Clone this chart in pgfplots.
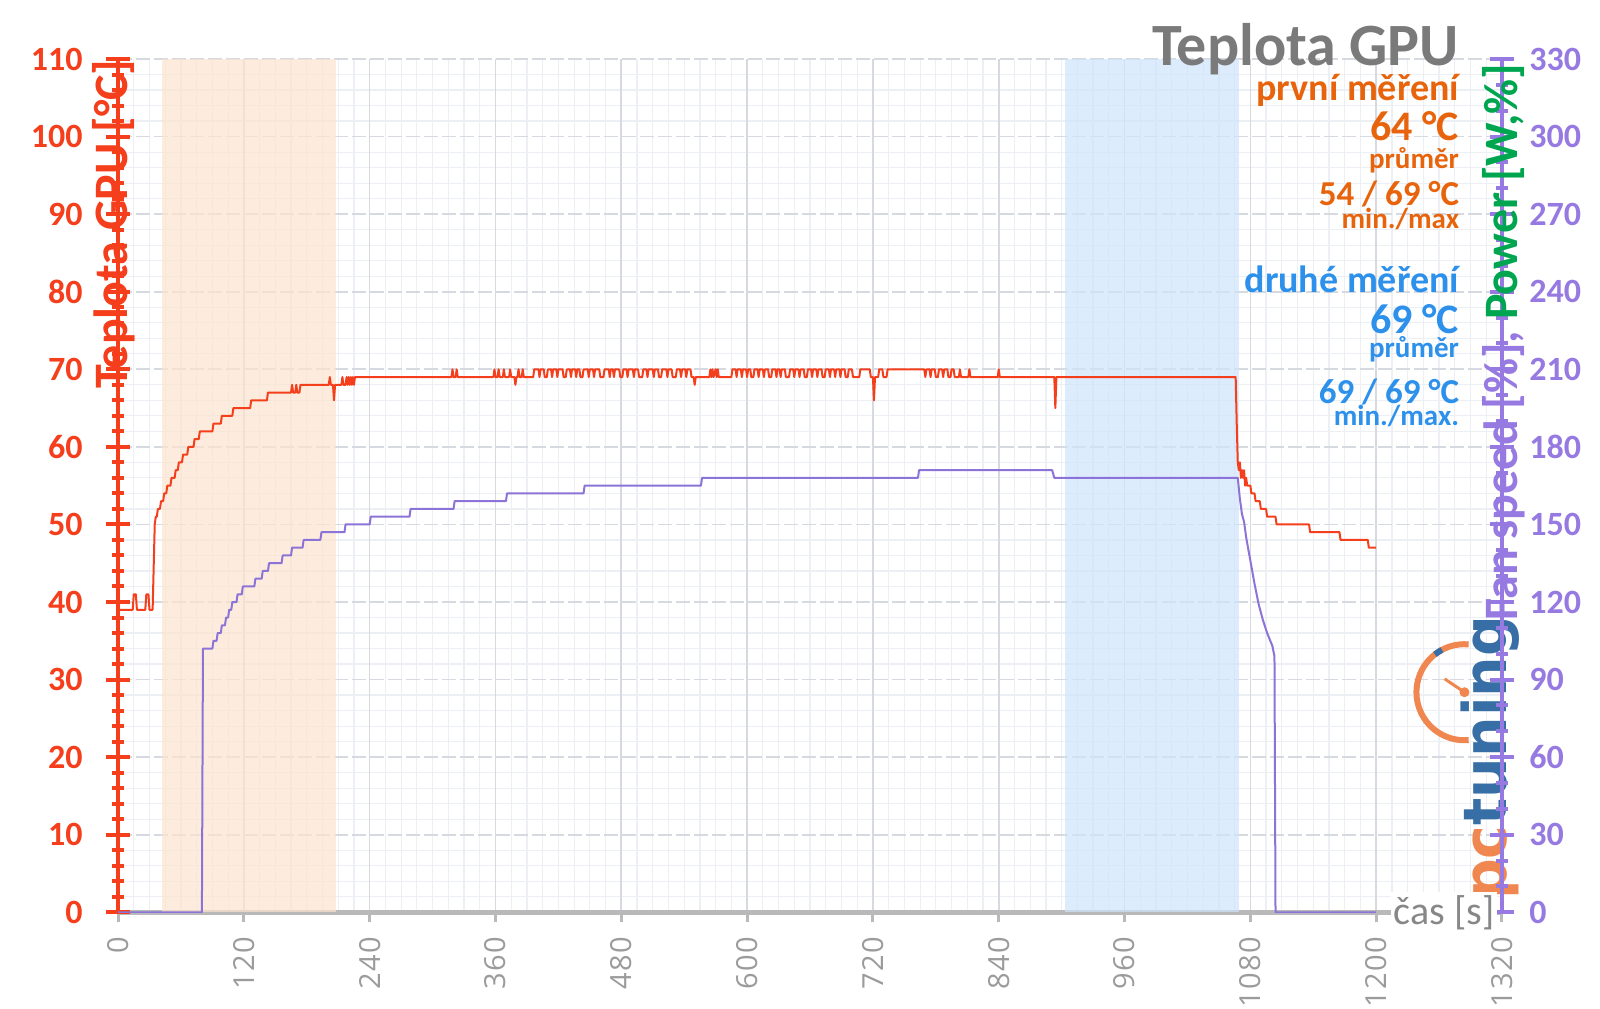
\documentclass[border=0pt]{standalone}
\usepackage{fontspec}
\setmainfont{Carlito}
\newfontfamily\tickfont[LetterSpace=5]{Open Sans}
\newfontfamily\logofont{DejaVu Sans}
\usepackage{graphicx}
\usepackage{pgfplots}
\pgfplotsset{compat=1.18}

\definecolor{tred}{RGB}{245,62,28}
\definecolor{tpurple}{RGB}{150,122,226}
\definecolor{fanline}{RGB}{140,115,215}
\definecolor{tgreen}{RGB}{0,165,80}
\definecolor{tgray}{RGB}{122,122,122}
\definecolor{xgray}{RGB}{185,185,185}
\definecolor{xtickgray}{RGB}{155,155,155}
\definecolor{first}{RGB}{232,100,12}
\definecolor{second}{RGB}{45,145,235}
\definecolor{gridmaj}{RGB}{214,218,224}
\definecolor{gridmin}{RGB}{236,239,244}
\definecolor{bandorange}{RGB}{252,228,206}
\definecolor{bandblue}{RGB}{206,228,251}
\definecolor{logoorange}{RGB}{240,135,80}
\definecolor{logoblue}{RGB}{55,110,165}

\pgfplotsset{
  base/.style={scale only axis, width=691.75pt, height=426.5pt,
    xmin=0, xmax=1320, xtick={0,120,...,1320},
    /pgf/number format/1000 sep={},
    /pgf/number format/assume math mode=true},
  bare/.style={base, ymin=0, ymax=110, ytick={0,10,...,110},
    axis line style={draw=none}, major tick length=0pt, minor tick length=0pt,
    xticklabels={}, yticklabels={}},
}

\begin{document}
\begin{tikzpicture}
\useasboundingbox (-59pt,-48pt) rectangle (740.75pt,456pt);

% minor grid
\begin{axis}[bare, minor x tick num=7, minor y tick num=4,
    xminorgrids, yminorgrids, minor grid style={gridmin, line width=0.6pt}]
\addplot[draw=none] coordinates {(0,0) (1320,110)};
\end{axis}
% major vertical grid
\begin{axis}[bare, xmajorgrids, major grid style={gridmaj, line width=0.8pt}]
\addplot[draw=none] coordinates {(0,0) (1320,110)};
\end{axis}
% major horizontal grid, dashed
\begin{axis}[bare, ymajorgrids, major grid style={gridmaj, line width=0.8pt, dash pattern=on 7pt off 2pt}]
\addplot[draw=none] coordinates {(0,0) (1320,110)};
\end{axis}

% logo
\draw[logoorange, line width=3pt] (673pt,110pt) ++(85:24pt) arc[start angle=85, end angle=275, radius=24pt];
\draw[logoblue, line width=3pt] (673pt,110pt) ++(118:24pt) arc[start angle=118, end angle=128, radius=24pt];
\draw[logoorange, line width=1.5pt] (673pt,110pt) -- ++(146:12pt);
\fill[logoorange] (673pt,110pt) circle (2.5pt);
\node[rotate=90, anchor=base west, inner sep=0pt] at (694pt,6pt)
  {\logofont\bfseries\fontsize{30}{30}\selectfont\scalebox{0.95}[1]{\textcolor{logoorange}{pc}\textcolor{logoblue}{tuning}}};

% x axis
\begin{axis}[base, ymin=0, ymax=110, axis x line=bottom, axis y line=none,
    axis line style={-, draw=xgray, line width=2.5pt},
    tick align=outside, major tick length=5pt,
    tick style={draw=xgray, line width=1.5pt},
    xticklabel style={rotate=90, anchor=east, inner xsep=7pt,
      font=\tickfont\fontsize{14.5}{14.5}\selectfont, text=xtickgray}]
\addplot[draw=none] coordinates {(0,0) (1320,110)};
\end{axis}

% temperature, left axis
\begin{axis}[base, ymin=0, ymax=110, axis y line=left, axis x line=none,
    axis line style={-, draw=tred, line width=2pt},
    ytick={0,10,...,110}, minor y tick num=4,
    tick align=center, major tick length=12pt, minor tick length=6pt,
    tick style={draw=tred, line width=2pt},
    yticklabel style={inner xsep=0pt, xshift=-11.5pt,
      font=\fontsize{17}{17}\selectfont\bfseries, text=tred}]
\addplot[draw=none, fill=bandorange, fill opacity=0.7]
  coordinates {(42,0) (208,0) (208,110) (42,110)};
\addplot[draw=none, fill=bandblue, fill opacity=0.7]
  coordinates {(903,0) (1069,0) (1069,110) (903,110)};
\addplot[tred, line width=1pt, line join=round] coordinates {
(0,39)(14,39)(15,41)(17,41)(18,39)(26,39)(27,41)(29,41)(30,39)(33,39)(35,50)(36,51)(37,51)
(38,52)(40,52)(41,53)(43,53)(44,54)(46,54)(47,55)(50,55)(51,56)(54,56)(55,57)(57,57)(58,58)
(61,58)(62,59)(66,59)(67,60)(72,60)(73,61)(77,61)(78,62)(90,62)(91,63)(98,63)(99,64)(109,64)
(110,65)(126,65)(127,66)(142,66)(143,67)(165,67)(166,68)(167,67)(169,67)(170,68)(171,67)
(173,67)(174,68)(201,68)(202,69)(203,68)(205,68)(206,66)(207,68)(213,68)(214,69)(215,68)
(217,68)(218,69)(219,68)(220,69)(221,68)(222,69)(223,68)(224,69)(225,68)(226,69)
(318,69)(319,70)(320,69)(322,69)(323,70)(324,69)(358,69)(359,70)(360,69)(362,69)(363,70)
(364,69)(367,69)(368,70)(369,69)(373,69)(374,70)(375,69)(378,69)(379,68)(380,69)(381,69)
(382,70)(383,69)(385,69)(386,70)(387,69)(396,69)(397,70)
(401,70)(402,69)(403,70)(406,70)(407,69)(409,69)(410,70)(413,70)(414,69)(415,70)(418,70)
(419,69)(420,70)(424,70)(425,69)(427,69)(428,70)(431,70)(432,69)(433,70)(436,70)(437,69)
(438,70)(440,70)(441,69)(443,69)(444,70)(448,70)(449,69)(450,70)(453,70)(454,69)(455,70)
(459,70)(460,69)(463,69)(464,70)(468,70)(469,69)(470,70)(472,70)(473,69)(474,70)(478,70)
(479,69)(481,69)(482,70)(485,70)(486,69)(487,70)(491,70)(492,69)(493,70)(496,70)(497,69)
(500,69)(501,70)(504,70)(505,69)(506,70)(510,70)(511,69)(512,70)(515,70)(516,69)(518,69)
(519,70)(523,70)(524,69)(525,70)(528,70)(529,69)(532,69)(533,70)(536,70)(537,69)(538,70)
(541,70)(542,69)(543,70)(546,70)(547,69)(549,69)(550,68)(551,69)(564,69)(565,70)(566,69)
(567,70)(568,69)(570,70)(571,69)(572,70)(573,69)(585,69)(586,70)
(589,70)(590,69)(591,70)(594,70)(595,69)(596,70)(599,70)(600,69)(601,70)(603,70)(604,69)
(606,69)(607,70)(610,70)(611,69)(612,70)(615,70)(616,69)(617,70)(620,70)(621,69)(623,69)
(624,70)(627,70)(628,69)(629,70)(631,70)(632,69)(633,70)(636,70)(637,69)(640,69)(641,70)
(644,70)(645,69)(646,70)(649,70)(650,69)(651,70)(654,70)(655,69)(657,69)(658,70)(661,70)
(662,69)(663,70)(666,70)(667,69)(668,70)(671,70)(672,69)(674,69)(675,70)(678,70)(679,69)
(680,70)(683,70)(684,69)(685,70)(688,70)(689,69)(690,70)(693,70)(694,69)(696,69)(697,70)
(700,70)(701,69)(707,69)(708,70)(717,70)(718,69)(720,69)(721,66)(722,69)(725,69)(726,70)
(729,70)(730,69)(733,69)(734,70)(769,70)(770,69)(771,70)(774,70)(775,69)(776,70)(779,70)
(780,69)(782,69)(783,70)(786,70)(787,69)(788,70)(791,70)(792,69)(794,69)(795,70)(797,70)
(798,69)(802,69)(803,70)(804,69)(811,69)(812,70)(813,69)(839,69)(840,70)(841,69)(893,69)
(894,65)(895,69)(1066,69)(1067,63)(1068,58)(1069,57)(1070,58)(1071,56)(1072,57)(1073,56)
(1074,57)(1075,55)(1076,56)(1077,55)(1080,55)(1081,54)(1084,54)(1085,53)(1089,53)(1090,52)
(1095,52)(1096,51)(1104,51)(1105,50)(1136,50)(1137,49)(1165,49)(1166,48)(1192,48)(1193,47)
(1200,47)};
\end{axis}

% fan speed / power, right axis
\begin{axis}[base, ymin=0, ymax=330, axis y line=right, axis x line=none,
    axis line style={-, draw=tpurple, line width=2pt},
    ytick={0,30,...,330}, minor y tick num=2,
    tick align=center, major tick length=12pt, minor tick length=6pt,
    tick style={draw=tpurple, line width=2pt},
    yticklabel style={inner xsep=0pt, xshift=7.5pt,
      font=\fontsize{17}{17}\selectfont\bfseries, text=tpurple}]
\addplot[fanline, line width=1pt, line join=round] coordinates {
(0,0)(80,0)(81,102)(90,102)(91,105)(94,105)(95,108)(98,108)(99,111)(102,111)(103,114)
(105,114)(106,117)(108,117)(109,120)(113,120)(114,123)(118,123)(119,126)(130,126)(131,129)
(137,129)(138,132)(143,132)(144,135)(156,135)(157,138)(165,138)(166,141)(176,141)(177,144)
(193,144)(194,147)(216,147)(217,150)(240,150)(241,153)(278,153)(279,156)(320,156)(321,159)
(370,159)(371,162)(444,162)(445,165)(556,165)(557,168)(763,168)(764,171)(891,171)(893,168)
(1068,168)(1070,160)(1072,154)(1074,151)(1076,145)(1080,136)(1084,127)(1088,119)(1092,113)
(1096,108)(1101,103)(1103,99)(1104,0)(1200,0)};
\end{axis}

% axis titles
\node[rotate=90, text=tred, font=\fontsize{24}{24}\selectfont\bfseries] at (-2pt,344pt) {Teplota GPU [°C]};
\node[rotate=90, font=\fontsize{24}{24}\selectfont\bfseries] at (692.5pt,285pt)
  {\textcolor{tpurple}{Fan speed [\%], }\textcolor{tgreen}{Power [W,\%]}};
\node[anchor=west, fill=white, inner sep=1.5pt, text=tgray!90, font=\fontsize{20}{20}\selectfont] at (636pt,0pt) {čas [s]};

% summary text
\begin{scope}[every node/.style={anchor=base east, inner sep=0pt}]
\node[text=tgray, font=\fontsize{30}{30}\selectfont\bfseries] at (670.5pt,423.5pt) {Teplota GPU};
\node[text=first, font=\fontsize{19}{19}\selectfont\bfseries] at (670.5pt,406pt) {první měření};
\node[text=first, font=\fontsize{21}{21}\selectfont\bfseries] at (670.5pt,386pt) {64 °C};
\node[text=first, font=\fontsize{14.5}{14.5}\selectfont\bfseries] at (670.5pt,372pt) {průměr};
\node[text=first, font=\fontsize{17.5}{17.5}\selectfont\bfseries] at (670.5pt,353.5pt) {54 / 69 °C};
\node[text=first, font=\fontsize{14.5}{14.5}\selectfont\bfseries] at (670.5pt,342pt) {min./max};
\node[text=second, font=\fontsize{19}{19}\selectfont\bfseries] at (670.5pt,310pt) {druhé měření};
\node[text=second, font=\fontsize{21}{21}\selectfont\bfseries] at (670.5pt,289.5pt) {69 °C};
\node[text=second, font=\fontsize{14.5}{14.5}\selectfont\bfseries] at (670.5pt,277.5pt) {průměr};
\node[text=second, font=\fontsize{17.5}{17.5}\selectfont\bfseries] at (670.5pt,254.5pt) {69 / 69 °C};
\node[text=second, font=\fontsize{14.5}{14.5}\selectfont\bfseries] at (670.5pt,243.5pt) {min./max.};
\end{scope}
\end{tikzpicture}
\end{document}
